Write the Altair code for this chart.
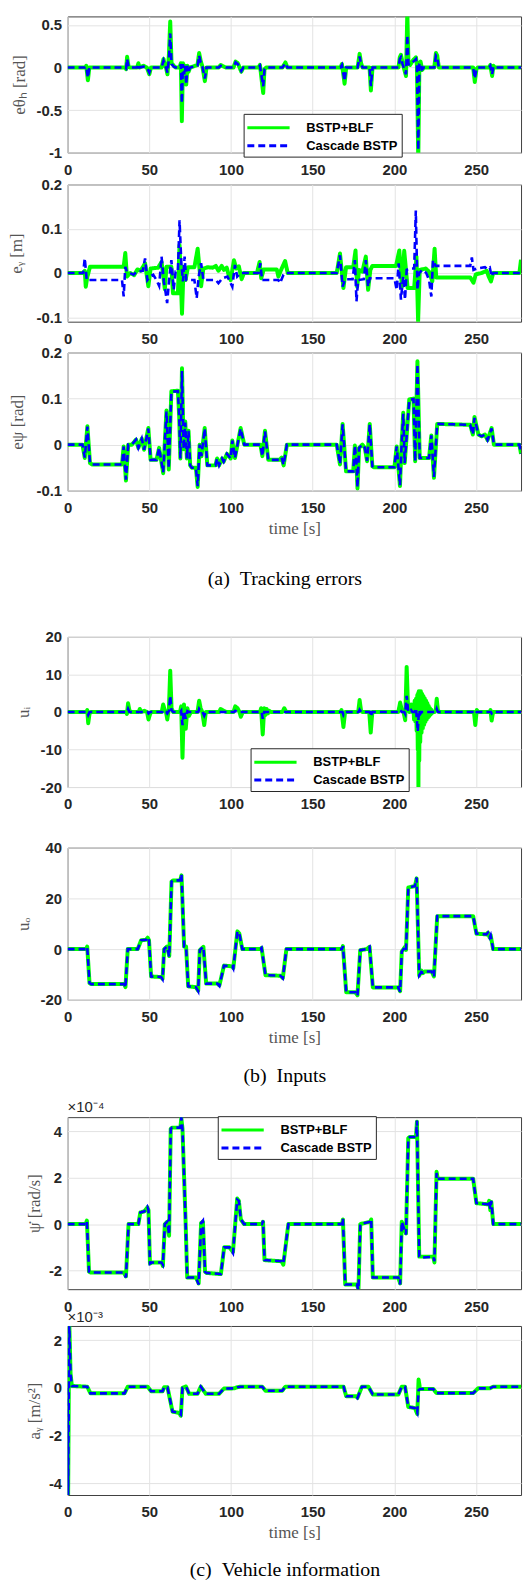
import altair as alt
import pandas as pd

SERIES = ["BSTP+BLF", "Cascade BSTP"]
COLORS = ["#00ff00", "#0000ff"]
X_TICKS = [0, 50, 100, 150, 200, 250]
X_DOMAIN = [0, 277.5]

# ---------------- (a) tracking errors ----------------
ETH_BLF = [(0,0),(10.8,0),(11.4,0.02),(12.4,-0.15),(13.3,0),(35.3,0),(35.8,-0.02),(36.4,0.125),(37.3,0.01),(38,0),
           (42.6,0),(43.3,0.05),(44,0),(46.5,0.02),(48.5,0),(50,-0.08),(51,0),(57.5,0),(58.7,0.1),(59.6,0.02),
           (60.2,0),(61.1,-0.08),(62,0.15),(62.8,0.54),(63.6,0.05),(65,0.02),(66,0),(68.5,0),(69.3,0.05),(69.9,-0.63),
           (70.6,0.05),(71.3,-0.1),(71.9,0.02),(72.6,-0.2),(73.3,0.02),(74,-0.05),(75,0),(79.5,0.03),(80.5,0.17),(81.4,0.08),
           (82.5,0.01),(84,-0.16),(85,0),(92.5,0),(93.7,0.03),(95.5,0.01),(97,0),(101.5,0),(102.8,0.07),(104.2,0.05),
           (106.3,-0.05),(107.5,0),(116.8,0),(117.7,0.03),(119.7,-0.3),(120.5,-0.02),(121.5,0),(131.5,0),(133.3,0.06),(134.5,0),
           (167,0),(167.9,0.04),(169.5,-0.19),(170.5,0),(177.5,0),(178.7,0.16),(179.6,0.05),(180.5,0),(184.8,0),(185.6,-0.27),
           (186.6,0),(202.5,0),(203.3,0.12),(204,0.15),(205,0.05),(206,-0.02),(207.1,-0.1),(207.9,0.65),(208.6,0.05),(209.6,0.03),
           (211.6,0.09),(213.2,0.12),(213.8,0.02),(214.6,-1.1),(215.3,0.05),(216,0.07),(217,-0.03),(218,0),(224.4,0),(225.4,0.17),
           (226.2,0.14),(227.2,0),(248.2,0),(249.2,-0.17),(250.2,-0.02),(251,0),(258,0),(258.7,0.03),(259.8,-0.1),(260.6,0.02),
           (261.5,0),(277.5,0)]
ETH_CAS = [(0,0),(10.8,0),(11.4,0.01),(12.4,-0.12),(13.3,0),(35.3,0),(35.8,-0.01),(36.4,0.1),(37.3,0.01),(38,0),
           (42.6,0),(43.3,0.04),(44,0),(46.5,0.01),(48.5,0),(50,-0.06),(51,0),(57.5,0),(58.7,0.08),(59.6,0.02),
           (60.2,0),(61.1,-0.06),(62,0.1),(62.8,0.4),(63.6,0.04),(65,0.01),(66,0),(68.5,0),(69.3,0.04),(69.9,-0.42),
           (70.6,0.04),(71.3,-0.08),(71.9,0.02),(72.6,-0.2),(73.3,0.02),(74,-0.04),(75,0),(79.5,0.02),(80.5,0.14),(81.4,0.06),
           (82.5,0.01),(84,-0.13),(85,0),(92.5,0),(93.7,0.02),(95.5,0.01),(97,0),(101.5,0),(102.8,0.06),(104.2,0.04),
           (106.3,-0.04),(107.5,0),(116.8,0),(117.7,0.02),(119.7,-0.22),(120.5,-0.02),(121.5,0),(131.5,0),(133.3,0.05),(134.5,0),
           (167,0),(167.9,0.03),(169.5,-0.16),(170.5,0),(177.5,0),(178.7,0.13),(179.6,0.04),(180.5,0),(184.8,0),(185.6,-0.22),
           (186.6,0),(202.5,0),(203.3,0.1),(204,0.12),(205,0.04),(206,-0.02),(207.1,-0.08),(207.9,0.38),(208.6,0.04),(209.6,0.03),
           (211.6,0.07),(213.2,0.1),(213.8,0.02),(214.6,-0.97),(215.3,0.04),(216,0.05),(217,-0.02),(218,0),(224.4,0),(225.4,0.14),
           (226.2,0.12),(227.2,0),(248.2,0),(249.2,-0.13),(250.2,-0.02),(251,0),(258,0),(258.7,0.02),(259.8,-0.08),(260.6,0.01),
           (261.5,0),(277.5,0)]

EY_BLF = [(0,0),(9.5,0),(10.5,0.005),(11.1,-0.031),(12,-0.01),(13.7,0.014),(34.3,0.014),(35.3,0.045),(36.3,-0.008),(38.4,0),
          (40.7,-0.005),(42.7,0.008),(44.7,0.005),(47.4,0.022),(49.4,-0.03),(50.8,0.01),(55.4,0.012),(57.5,0.025),(59.5,-0.037),(60.5,0.014),
          (63.5,0.014),(64.5,-0.046),(67.5,-0.046),(68.5,0.063),(70,-0.092),(71,0.014),(72.2,-0.016),(73.6,0.013),(77.6,0.013),(79.6,0.055),
          (81.7,-0.03),(83.1,0.01),(85.7,0.013),(88.7,0.012),(90.7,0.016),(92.3,0.005),(94.3,0.016),(95.7,0.007),(97.4,0.012),(98.8,-0.008),
          (99.8,-0.016),(101.8,0.029),(103.2,0.01),(104.8,0.015),(106.5,-0.014),(107.9,0),(115.9,0),(117.5,0.025),(118.5,-0.012),(120,0.008),
          (128,0.008),(129,-0.008),(131,0.01),(133.1,0.027),(134.7,0),(164.7,0),(166.7,0.044),(168.8,-0.034),(170.4,0.013),(174.8,0.013),
          (176.2,0.051),(177.2,-0.031),(178.4,0.007),(180.4,0.003),(182.5,0.037),(183.9,-0.038),(185.3,0.007),(186.5,0.016),(201,0.016),(203,0.051),
          (204.6,-0.031),(206,0.05),(208.1,-0.034),(212.1,-0.034),(213.5,0.037),(214.5,-0.109),(215.5,0.007),(219.2,0.01),(221.2,0.003),(223.2,-0.019),
          (224.6,0.055),(225.6,-0.01),(246.4,-0.01),(248.4,-0.022),(249.8,-0.003),(253.4,0),(256.5,0.005),(257.7,-0.008),(259.1,-0.019),(260.5,0),
          (276.5,0),(277.5,0.03)]
EY_CAS = [(0,0),(9.5,0),(10.5,0.033),(11.7,-0.016),(33.3,-0.016),(34.3,-0.053),(35.3,0.014),(36.3,0.003),(40.3,-0.004),(42.3,0.003),
          (46,0.005),(47.4,0.033),(48.8,-0.016),(50.4,-0.008),(52.4,-0.004),(54.4,-0.016),(56,-0.029),(57.5,0.037),(58.9,-0.019),(60,-0.045),
          (60.9,-0.068),(62.1,-0.016),(63.5,0.029),(64.9,-0.038),(66.1,0.003),(67.5,0.003),(68.5,0.119),(69.6,0.022),(70.6,-0.019),(71.6,0.037),
          (72.6,-0.016),(77.6,-0.016),(79,-0.057),(80.2,-0.008),(81.7,0.022),(83.1,-0.016),(90.7,-0.016),(92.3,-0.023),(94.7,-0.012),(97.8,-0.008),
          (100.8,-0.031),(102.4,0.018),(103.8,-0.008),(105.8,0),(116.9,0),(117.9,0.022),(119,-0.016),(129,-0.016),(130,-0.023),(132.1,-0.004),
          (133.1,0),(164.7,0),(166.7,0.04),(168.3,-0.031),(169.8,-0.014),(174.4,-0.014),(175.8,0.029),(176.8,-0.064),(177.8,-0.016),(181.3,-0.014),
          (182.5,0.029),(183.9,-0.031),(184.9,-0.012),(200,-0.012),(201.4,-0.038),(202.6,0.022),(204,-0.06),(205.4,-0.008),(206.5,-0.06),(207.5,0.007),
          (209.5,0.01),(212.1,0.01),(213.1,0.141),(214.1,-0.038),(215.1,0),(217.1,0.007),(219.5,0),(221.2,-0.016),(222.6,-0.053),(223.6,0.029),
          (225.2,0.016),(246.4,0.016),(247.4,0.035),(248.4,0.007),(250.4,0.01),(255.4,0.013),(257,0.008),(258.4,0.012),(259.5,-0.008),(260.5,0),
          (277.5,0)]

EPSI_BLF = [(0,0),(9.1,0),(10.5,-0.029),(12.1,0.04),(13.7,-0.04),(15.1,-0.043),(33.3,-0.043),(34.3,-0.004),(35.7,-0.078),(37.1,0),
            (39.3,0),(41.9,0.011),(43.3,-0.007),(45.4,0.013),(46.8,-0.011),(49.4,0.036),(50.8,-0.033),(54.4,-0.033),(56,-0.007),(58.5,-0.062),
            (60.5,0.074),(61.9,-0.054),(63.5,0.116),(67.5,0.117),(68.3,0.06),(69,-0.03),(70,0.166),(71,-0.01),(72,0.05),(73,-0.03),
            (74,0.03),(75,-0.045),(76,-0.05),(78.5,-0.05),(79.6,-0.092),(80.8,0),(81.9,-0.025),(83.9,0.036),(85.5,-0.045),(90.5,-0.045),
            (91.5,-0.03),(92.7,-0.045),(94.5,-0.03),(95.5,-0.037),(97.5,-0.02),(99.8,-0.03),(100.8,0.009),(102.4,-0.029),(105.9,0.036),(108.1,0),
            (118,0),(119.2,-0.025),(120.8,0.03),(122.8,-0.033),(129.8,-0.033),(131,-0.028),(132.2,-0.045),(134.2,0),(164.7,0),(166.7,-0.043),
            (168.3,0.045),(170.4,-0.058),(174.8,-0.058),(175.8,-0.002),(176.8,-0.043),(177.4,-0.095),(178.4,-0.007),(180.4,0),(181.9,-0.007),(183.3,-0.036),
            (184.9,0.045),(186.5,-0.047),(187.5,-0.049),(200,-0.049),(201.4,-0.004),(203.4,-0.09),(204.4,0),(205.4,0.069),(206.3,-0.04),(209.1,0.098),
            (211.7,0.1),(212.7,-0.036),(214.1,0.181),(215.5,-0.029),(221.2,-0.029),(222.6,0.02),(224.2,-0.072),(226.2,0.045),(246.4,0.043),(248,0.022),
            (249,0.06),(251.4,0.022),(253.4,0.018),(255.4,0.022),(257,0.01),(259.5,0.036),(260.9,0),(276.5,0),(277.5,-0.02)]
EPSI_CAS = [(0,0),(9.1,0),(10.5,-0.028),(12.1,0.039),(13.7,-0.04),(15.1,-0.043),(33.3,-0.043),(34.3,-0.004),(35.7,-0.076),(37.1,0),
            (39.3,0),(41.9,0.011),(43.3,-0.007),(45.4,0.013),(46.8,-0.011),(49.4,0.035),(50.8,-0.033),(54.4,-0.033),(56,-0.007),(58.5,-0.06),
            (60.5,0.072),(61.9,-0.052),(63.5,0.115),(67.5,0.116),(68.3,0.06),(69,-0.03),(70,0.16),(71,-0.01),(72,0.048),(73,-0.03),
            (74,0.03),(75,-0.045),(76,-0.05),(78.5,-0.05),(79.6,-0.09),(80.8,0),(81.9,-0.025),(83.9,0.035),(85.5,-0.045),(90.5,-0.045),
            (91.5,-0.03),(92.7,-0.045),(94.5,-0.03),(95.5,-0.037),(97.5,-0.02),(99.8,-0.03),(100.8,0.009),(102.4,-0.029),(105.9,0.035),(108.1,0),
            (118,0),(119.2,-0.025),(120.8,0.029),(122.8,-0.033),(129.8,-0.033),(131,-0.028),(132.2,-0.044),(134.2,0),(164.7,0),(166.7,-0.042),
            (168.3,0.044),(170.4,-0.058),(174.8,-0.058),(175.8,-0.002),(176.8,-0.043),(177.4,-0.093),(178.4,-0.007),(180.4,0),(181.9,-0.007),(183.3,-0.035),
            (184.9,0.044),(186.5,-0.047),(187.5,-0.049),(200,-0.049),(201.4,-0.004),(203.4,-0.088),(204.4,0),(205.4,0.067),(206.3,-0.04),(209.1,0.097),
            (211.7,0.099),(212.7,-0.036),(214.1,0.175),(215.5,-0.029),(221.2,-0.029),(222.6,0.02),(224.2,-0.07),(226.2,0.045),(246.4,0.043),(248,0.022),
            (249,0.058),(251.4,0.022),(253.4,0.018),(255.4,0.022),(257,0.01),(259.5,0.035),(260.9,0),(276.5,0),(277.5,-0.02)]

# ---------------- (b) inputs ----------------
UI_BLF = [(0,0),(11.4,0),(12,0.5),(12.6,-3),(13.4,-0.5),(14.2,0),(35.8,0),(36.3,-0.5),(37,2.3),(37.8,0.5),
          (38.6,0),(43.5,0),(44.2,0.8),(45,0),(47,0.3),(48.6,0),(49.5,-2),(50.5,-0.5),(51.2,0),(57.6,0),
          (58.5,2),(59.4,0.5),(60.2,0),(61,-2),(62,1),(62.8,11),(63.6,1),(64.6,0),(68.8,0),(69.5,1.5),
          (70.3,-12.2),(71.2,2),(72.3,-4.5),(73.3,1),(74.3,-1),(75.5,0),(79.5,0),(80.5,3),(81.4,1),(82.4,0),
          (83.6,-3.5),(84.6,0),(92.8,0),(93.6,0.8),(95.5,0.3),(97,0),(101.5,0),(102.6,1.5),(104,1),(105.2,0),
          (106,-1.3),(107.2,0),(117.8,0),(118.4,1),(119.4,-6),(120.3,1),(121,-0.8),(121.8,0.8),(122.6,-0.4),(123.4,0.3),
          (124.3,0),(131.5,0),(132.6,1),(133.8,0),(167,0),(167.6,0.5),(168.8,-4),(169.8,0),(177.4,0),(178,0.5),
          (178.7,3.2),(179.6,0.3),(180.4,0),(184.6,0),(185.5,-5.5),(186.5,0),(202.4,0),(203.5,2.5),(204.5,0.5),(205.6,0),
          (206.6,-2.2),(207.5,12),(208.4,0.5),(209.3,0),(210.2,2),(211,0),(211.6,2),(212,-2),(212.4,3),(212.8,-2.5),
          (213.2,3.5),(213.6,-5),(214,4.5),(214.3,-10),(214.5,5),(214.7,-21),(214.9,5.5),(215.2,-13),(215.5,5.5),(215.8,-8),
          (216.2,5.5),(216.6,-5.5),(217,4.8),(217.4,-4.3),(217.8,4.2),(218.2,-3.4),(218.6,3.6),(219,-2.6),(219.4,3),(219.8,-2),
          (220.2,2.3),(220.6,-1.5),(221,1.6),(221.4,-1.1),(221.8,1),(222.2,-0.7),(222.6,0.6),(223,-0.3),(223.5,0),(224.6,0),
          (225.3,0.5),(225.9,3.5),(226.6,0.5),(227.3,0),(248.7,0),(249.5,-3.5),(250.4,0.5),(251.2,0),(258.2,0),(258.8,0.5),
          (259.5,-2.3),(260.4,0),(277.5,0)]
UI_CAS = [(0,0),(12,0),(12.6,-0.8),(13.4,0),(36.4,0),(37,0.8),(37.8,0),(49,0),(49.5,-0.4),(50.5,0),
          (58,0),(58.5,0.4),(59.4,0),(60.3,0),(61,-0.4),(62,0.3),(62.8,4.3),(63.6,0.5),(64.6,0),(69,0),
          (69.5,0.3),(70.3,-3.5),(71.2,0.3),(72.3,-1.8),(73.3,0.2),(74.3,0),(80,0),(80.5,0.8),(81.4,0.2),(82.6,0),
          (83.6,-1),(84.6,0),(102,0),(102.6,0.3),(104,0),(118.8,0),(119.4,-1.8),(120.3,0),(168.2,0),(168.8,-0.8),
          (169.8,0),(178.1,0),(178.7,0.6),(179.6,0),(185,0),(185.5,-1.2),(186.5,0),(203,0),(203.5,0.5),(204.5,0),
          (206,0),(206.6,-0.5),(207.5,4.3),(208.4,0.3),(209.3,0),(210.2,0.5),(211,0),(212.5,0),(213.2,1),(214.3,-5.2),
          (215,0.5),(215.8,-0.5),(216.6,0),(225.3,0),(225.9,0.8),(226.6,0),(249,0),(249.5,-0.5),(250.4,0),(259,0),
          (259.5,-0.4),(260.4,0),(277.5,0)]

UO_BLF = [(0,0),(11.4,0),(12,1),(13.4,-13.4),(14.5,-13.8),(34.8,-13.8),(35.4,-15),(36.8,0),(42.9,0),(45,3.5),
          (48,3.7),(49,4.5),(49.8,3.5),(51.1,-10.8),(57.2,-11),(58.1,-11.7),(59.1,0),(60.8,1),(62.2,-2.7),(63.6,26.6),
          (64.6,27.1),(68.9,27.1),(69.7,29.1),(71.3,1),(72.5,1),(73.8,-14.7),(78.5,-15),(79.9,-16.4),(80.9,-0.4),(83.1,0.9),
          (84.8,-13.6),(91.7,-13.6),(92.9,-14.3),(95.7,-6.5),(100.8,-6.8),(101.4,-7.5),(103.9,7),(105.1,6.1),(106.9,0),(118,0),
          (118.7,0.5),(121.1,-10.3),(130.3,-10.5),(131.7,-11.4),(133.9,0),(167.9,0),(168.5,1.2),(170.5,-17),(176,-17),(177.4,-18.2),
          (179.1,-0.4),(183.1,0),(184.8,0.9),(186.8,-15.1),(202.4,-15.1),(203.5,-16.6),(204.5,-1),(206.5,0.9),(207.1,-0.3),(208.5,24.3),
          (212.6,24.9),(213.6,27.9),(215.2,-10.5),(216.5,-8.5),(217.5,-9.5),(218.5,-8.8),(222.8,-8.8),(224.2,-10.8),(226.2,13),(248.2,13),
          (250.2,6.1),(256.3,5.8),(257.3,6.5),(258.3,4.5),(258.9,5.5),(260.4,0),(277.5,0)]
UO_CAS = [(0,0),(11.4,0),(12,0.8),(13.4,-13.4),(14.5,-13.8),(34.8,-13.8),(35.4,-15.2),(36.8,0),(42.9,0),(45,3.5),
          (48,3.7),(49,4.7),(49.8,3.5),(51.1,-10.8),(57.2,-11),(58.1,-11.9),(59.1,0),(60.8,1),(62.2,-3),(63.6,26.6),
          (64.6,27.1),(68.9,27.1),(69.7,29.6),(71.3,1),(72.5,1),(73.8,-14.7),(78.5,-15),(79.9,-16.6),(80.9,-0.4),(83.1,0.9),
          (84.8,-13.6),(91.7,-13.6),(92.9,-14.5),(95.7,-6.5),(100.8,-6.8),(101.4,-7.6),(103.9,7),(105.1,6.1),(106.9,0),(118,0),
          (118.7,0.5),(121.1,-10.3),(130.3,-10.5),(131.7,-11.5),(133.9,0),(167.9,0),(168.5,1.2),(170.5,-17),(176,-17),(177.4,-18.5),
          (179.1,-0.4),(183.1,0),(184.8,0.9),(186.8,-15.1),(202.4,-15.1),(203.5,-16.8),(204.5,-1),(206.5,0.9),(207.1,-0.3),(208.5,24.3),
          (212.6,24.9),(213.6,28.2),(215.2,-10.3),(216.5,-9),(217.5,-9.3),(218.5,-8.8),(222.8,-8.8),(224.2,-10.9),(226.2,13),(248.2,13),
          (250.2,6.1),(256.3,5.8),(257.3,6.5),(258.3,4.6),(258.9,5.5),(260.4,0),(277.5,0)]

# ---------------- (c) vehicle information ----------------
PSID_BLF = [(0,0),(11.1,0),(11.8,0.15),(13.1,-2.05),(14,-2.08),(34.3,-2.08),(35.7,-2.25),(37.3,0),(43.3,0),(44.5,0.5),
            (47,0.55),(48.8,0.72),(49.5,0.6),(50.4,-1.7),(51.5,-1.65),(57.5,-1.65),(58.3,-1.8),(59.5,0),(61,0.1),(62.1,-0.5),
            (63.1,4.1),(64,4.15),(69,4.15),(69.6,4.55),(70.3,4.1),(72.2,0.1),(73.2,-2.3),(78.6,-2.3),(80.2,-2.55),(81.7,0.05),
            (82.8,0.1),(84.1,-2.05),(85,-2.1),(93.8,-2.15),(95.8,-1.0),(99,-1.0),(101.2,-1.2),(103.8,1.1),(104.8,1.0),(106,0.2),
            (108,0),(119,0),(119.6,0.1),(120.5,-1.55),(131,-1.6),(132,-1.75),(135.1,0),(167.9,0),(168.5,0.2),(169.9,-2.6),
            (177,-2.6),(178,-2.8),(179.1,0),(185.2,0.1),(185.8,0.2),(186.8,-2.3),(202.4,-2.3),(203.5,-2.55),(204.5,0.1),(207.1,-0.4),
            (208.5,3.7),(209.5,3.75),(213.2,3.75),(213.8,4.4),(215.2,-1.4),(216,-1.4),(223.8,-1.4),(224.5,-1.65),(225.8,2.25),(226.5,1.95),
            (248.2,1.95),(250.2,0.9),(257.3,0.85),(258,1.0),(258.7,0.6),(259.3,0.95),(260.5,0),(277.5,0)]
PSID_CAS = [(0,0),(11.1,0),(11.8,0.12),(13.1,-2.05),(14,-2.08),(34.3,-2.08),(35.7,-2.3),(37.3,0),(43.3,0),(44.5,0.5),
            (47,0.55),(48.8,0.75),(49.5,0.6),(50.4,-1.7),(51.5,-1.65),(57.5,-1.65),(58.3,-1.75),(59.5,0),(61,0.1),(62.1,-0.45),
            (63.1,4.1),(64,4.15),(69,4.15),(69.6,4.6),(70.3,4.1),(72.2,0.1),(73.2,-2.3),(78.6,-2.3),(80.2,-2.6),(81.7,0.05),
            (82.8,0.15),(84.1,-2.05),(85,-2.1),(93.8,-2.15),(95.8,-1.0),(99,-1.0),(101.2,-1.25),(103.8,1.05),(104.8,1.0),(106,0.2),
            (108,0),(119,0),(119.6,0.15),(120.5,-1.55),(131,-1.6),(132,-1.7),(135.1,0),(167.9,0),(168.5,0.25),(169.9,-2.6),
            (177,-2.6),(178,-2.85),(179.1,0),(185.2,0.1),(185.8,0.2),(186.8,-2.3),(202.4,-2.3),(203.5,-2.6),(204.5,0.1),(207.1,-0.45),
            (208.5,3.7),(209.5,3.75),(213.2,3.75),(213.8,4.45),(215.2,-1.4),(216,-1.45),(223.8,-1.4),(224.5,-1.6),(225.8,2.2),(226.5,1.95),
            (248.2,1.95),(250.2,0.9),(257.3,0.85),(258,1.0),(258.7,0.65),(259.3,1.0),(260.5,0),(277.5,0)]

AY_BLF = [(0,0),(0.3,-4.6),(1.0,2.8),(1.8,0.6),(2.6,0.08),(12,0.05),(14,-0.23),(34.8,-0.23),(36.8,0.05),(49,0.05),
          (51.1,-0.14),(58.1,-0.14),(59.1,0.03),(61.1,0.03),(64.2,-1.0),(68.3,-1.05),(69.3,-1.17),(70.3,0),(72.4,0.06),(74.4,-0.25),
          (79.5,-0.25),(81.5,0.05),(84.6,-0.25),(92.7,-0.25),(95.7,-0.03),(101.8,-0.02),(103.9,0.03),(106,0.05),(119.1,0.05),(121.1,-0.12),
          (131.3,-0.12),(133.3,0.05),(168.9,0.05),(170.5,-0.35),(176.6,-0.35),(177.4,-0.42),(180.1,0.05),(184.1,0.05),(186.8,-0.28),(202.4,-0.28),
          (204.5,0.05),(206.5,0.05),(208.5,-0.8),(212.6,-0.85),(214,-1.1),(214.8,0.35),(215.7,-0.05),(223.8,-0.05),(225.8,-0.22),(248.2,-0.22),
          (251.2,-0.02),(258.3,-0.02),(260.4,0.05),(277.5,0.05)]
AY_CAS = [(0,0),(0.3,-4.6),(1.0,2.8),(1.8,0.6),(2.6,0.08),(12,0.05),(14,-0.23),(34.8,-0.23),(36.8,0.05),(49,0.05),
          (51.1,-0.14),(58.1,-0.14),(59.1,0.03),(61.1,0.03),(64.2,-1.0),(68.3,-1.05),(69.3,-1.12),(70.3,0),(72.4,0.06),(74.4,-0.25),
          (79.5,-0.25),(81.5,0.05),(84.6,-0.25),(92.7,-0.25),(95.7,-0.03),(101.8,-0.02),(103.9,0.03),(106,0.05),(119.1,0.05),(121.1,-0.12),
          (131.3,-0.12),(133.3,0.05),(168.9,0.05),(170.5,-0.35),(176.6,-0.35),(177.4,-0.42),(180.1,0.05),(184.1,0.05),(186.8,-0.28),(202.4,-0.28),
          (204.5,0.05),(206.5,0.05),(208.5,-0.8),(212.6,-0.85),(214,-1.05),(214.8,-0.1),(215.7,-0.05),(223.8,-0.05),(225.8,-0.22),(248.2,-0.22),
          (251.2,-0.02),(258.3,-0.02),(260.4,0.05),(277.5,0.05)]

CAPTIONS = ["(a)\u2002Tracking errors", "(b)\u2002Inputs", "(c)\u2002Vehicle information"]

PLOT_W = 456


def legend_at(lx, ly):
    return alt.Legend(orient="none", legendX=lx, legendY=ly, title=None,
                      symbolType="M-2.5,0H2.5", symbolSize=289, symbolStrokeWidth=3, symbolOffset=11,
                      labelFont="Liberation Sans", labelFontWeight="bold", labelFontSize=13,
                      labelColor="black", labelOffset=28,
                      strokeColor="#262626", fillColor="white", padding=4, rowPadding=1)


def panel(blf, cas, ydom, yticks, ytitle, title_x, h, legend_pos=None, xtitle=None, mult=None):
    rows = [{"t": t, "v": v, "series": SERIES[0]} for t, v in blf] + \
           [{"t": t, "v": v, "series": SERIES[1]} for t, v in cas]
    df = pd.DataFrame(rows)
    leg = legend_at(*legend_pos) if legend_pos else None
    xaxis = alt.Axis(values=X_TICKS, title=xtitle, labelFlush=False, labelPadding=10,
                     titlePadding=5, labelExpr="datum.value + ''")
    base = alt.Chart(df).encode(
        x=alt.X("t:Q", scale=alt.Scale(domain=X_DOMAIN, nice=False, zero=False), axis=xaxis),
        y=alt.Y("v:Q", scale=alt.Scale(domain=ydom, nice=False, zero=False),
                axis=alt.Axis(values=yticks, title=ytitle, titleX=title_x, titleBaseline="middle",
                              labelPadding=6, labelExpr="datum.value + ''")),
        color=alt.Color("series:N", scale=alt.Scale(domain=SERIES, range=COLORS), legend=leg),
        strokeDash=alt.StrokeDash("series:N", scale=alt.Scale(domain=SERIES, range=[[1, 0], [7, 4]]), legend=leg),
    )
    green = base.transform_filter(alt.datum.series == SERIES[0]).mark_line(strokeWidth=4, clip=True, strokeJoin="round")
    blue = base.transform_filter(alt.datum.series == SERIES[1]).mark_line(strokeWidth=2.6, clip=True)
    ch = alt.layer(green, blue).properties(width=PLOT_W, height=h)
    if mult:
        ch = ch.properties(title=alt.TitleParams(mult, anchor="start", frame="group", orient="top",
                                                  font="Liberation Sans", fontSize=15, fontWeight="normal",
                                                  color="#262626", offset=1))
    return ch


def spacer(h, text="", ty=0):
    df = pd.DataFrame({"cap": [text]})
    return alt.Chart(df).mark_text(font="Liberation Serif", fontSize=20, color="black",
                                   align="center", baseline="middle").encode(
        text="cap:N", x=alt.value(218.5), y=alt.value(ty)
    ).properties(width=PLOT_W, height=h, view=alt.ViewBackground(stroke="transparent"))


p1 = panel(ETH_BLF, ETH_CAS, [-1, 0.6], [-1, -0.5, 0, 0.5], "eθₕ [rad]", -48, 137, legend_pos=(177, 98))
p2 = panel(EY_BLF, EY_CAS, [-0.11, 0.2], [-0.1, 0, 0.1, 0.2], "eᵧ [m]", -51, 138)
p3 = panel(EPSI_BLF, EPSI_CAS, [-0.1, 0.2], [-0.1, 0, 0.1, 0.2], "eψ [rad]", -50, 139, xtitle="time [s]")
p4 = panel(UI_BLF, UI_CAS, [-20, 20], [-20, -10, 0, 10, 20], "uᵢ", -44.5, 151, legend_pos=(184, 112))
p5 = panel(UO_BLF, UO_CAS, [-20, 40], [-20, 0, 20, 40], "uₒ", -44.5, 153, xtitle="time [s]")
p6 = panel(PSID_BLF, PSID_CAS, [-2.8, 4.6], [-2, 0, 2, 4], "ψ̇ [rad/s]", -33, 173,
           legend_pos=(151, -1), mult="×10⁻⁴")
p7 = panel(AY_BLF, AY_CAS, [-4.5, 2.6], [-4, -2, 0, 2], "aᵧ [m/s²]", -33, 170,
           xtitle="time [s]", mult="×10⁻³")

chart = alt.vconcat(
    p1, spacer(32), p2, spacer(31), p3, spacer(147, CAPTIONS[0], 88.7),
    p4, spacer(61), p5, spacer(118, CAPTIONS[1], 77),
    p6, spacer(37), p7, spacer(86, CAPTIONS[2], 75),
    spacing=0, bounds="flush",
).resolve_scale(
    x="independent", y="independent", color="independent", strokeDash="independent"
).properties(
    padding={"left": 7, "top": 11, "right": 6, "bottom": 0}
).configure_view(
    stroke="#404040", strokeWidth=1
).configure_axis(
    labelFont="Liberation Sans", labelFontWeight="bold", labelFontSize=15, labelColor="#262626",
    titleFont="Liberation Serif", titleFontWeight="normal", titleFontSize=17, titleColor="#555555",
    gridColor="#e3e3e3", gridWidth=1, domain=False, ticks=False, tickSize=0, labelOverlap=False
)

chart.save("out.html", embed_options={"renderer": "svg", "actions": False})
